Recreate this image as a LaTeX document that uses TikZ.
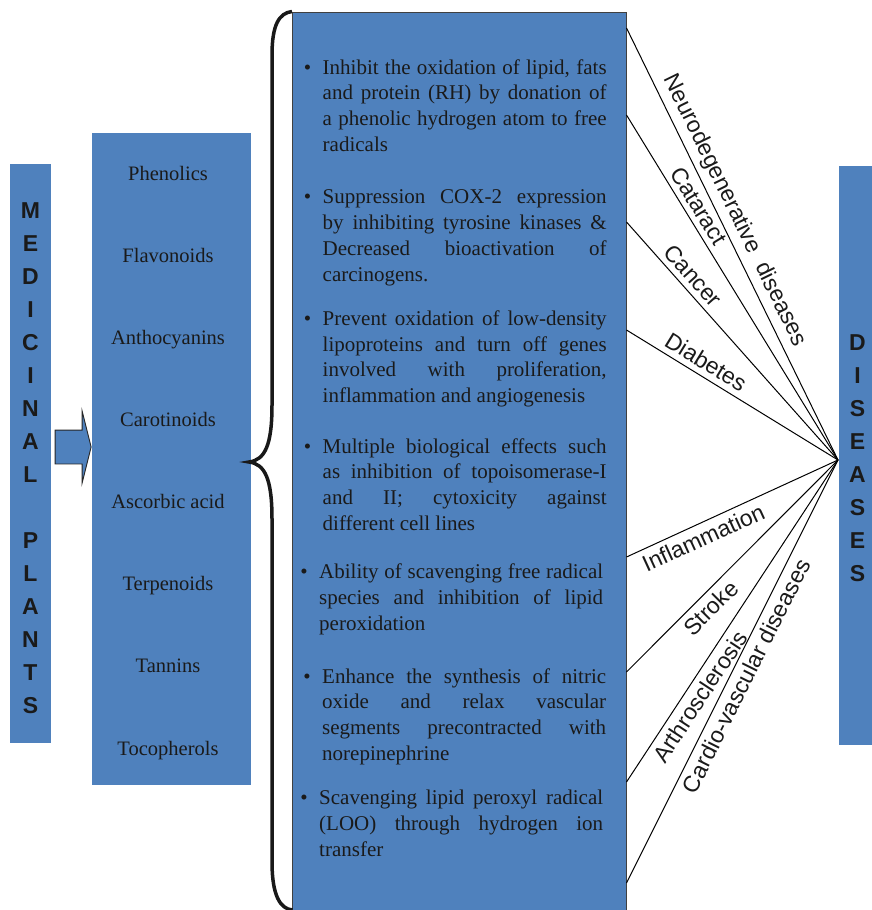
\documentclass[tikz,border=0pt]{standalone}
\usepackage{fontspec}
\setmainfont{Liberation Serif}
\setsansfont{Liberation Sans}
\usepackage{xcolor}
\usetikzlibrary{shapes.arrows}
\definecolor{panelblue}{HTML}{4F81BD}
\definecolor{ink}{HTML}{1A1A1A}
\newcommand{\mechbullet}{\leavevmode\llap{\textbullet\hspace{11.5pt}}}
\tikzset{
  panel/.style={rectangle, fill=panelblue, inner sep=0pt},
  mechbox/.style={rectangle, fill=panelblue, draw=black!75, line width=1pt, inner sep=0pt},
  letters/.style={text width=41pt, align=center, inner sep=0pt, text=ink,
    font=\sffamily\bfseries\fontsize{23}{33}\selectfont},
  comp/.style={inner sep=0pt, text=ink, font=\rmfamily\fontsize{20.5}{24}\selectfont},
  point/.style={text width=284pt, align=justify, inner sep=0pt, text=ink,
    font={\rmfamily\fontsize{21}{25.8}\selectfont\tolerance=10000 \hyphenpenalty=10000 \exhyphenpenalty=10000 }},
  bigarrow/.style={single arrow, fill=panelblue, draw=black!85, line width=0.9pt,
    minimum height=36pt, minimum width=71pt, single arrow head extend=19pt,
    single arrow tip angle=152, inner xsep=0pt, inner ysep=16.5pt},
  link/.style={draw=black, line width=1pt},
  tag/.style={sloped, inner sep=5.5pt, text=ink, font=\sffamily\fontsize{23}{27}\selectfont},
  brace/.style={line width=3.5pt, draw=black!90},
}

\begin{document}
\begin{tikzpicture}[x=1pt, y=-1pt]
  \useasboundingbox (0,0) rectangle (872,910);
  % columns
  \node[panel, minimum width=41pt, minimum height=579pt] (med) at (30.5,453.5) {};
  \node[panel, minimum width=159pt, minimum height=652pt] (comp) at (171.5,459) {};
  \node[mechbox, minimum width=333.5pt, minimum height=900pt] (mech) at (459.25,462) {};
  \node[panel, minimum width=36pt, minimum height=579pt] (dis) at (857,455.5) {};
  \node[bigarrow] (push) at (71,447) {};

  \node[letters, anchor=base] (medtxt) at (30.5,218) {M\\E\\D\\I\\C\\I\\N\\A\\L\\\mbox{}\\P\\L\\A\\N\\T\\S};
  \node[letters, text width=36pt, anchor=base] (distxt) at (857.5,350) {D\\I\\S\\E\\A\\S\\E\\S};

  % compounds
  \node[comp, anchor=base] (phe) at (168,180.5) {Phenolics};
  \node[comp, anchor=base] (fla) at (168,262.5) {Flavonoids};
  \node[comp, anchor=base] (ant) at (168,344.5) {Anthocyanins};
  \node[comp, anchor=base] (car) at (168,426) {Carotinoids};
  \node[comp, anchor=base] (asc) at (168,508.5) {Ascorbic acid};
  \node[comp, anchor=base] (ter) at (168,590.5) {Terpenoids};
  \node[comp, anchor=base] (tan) at (168,672.5) {Tannins};
  \node[comp, anchor=base] (toc) at (168,755) {Tocopherols};

  \draw[brace] (mech.north west) .. controls (279,13) and (272,25) .. (272,55) -- (272,405)
    .. controls (272,445) and (265,460) .. (249,462)
    .. controls (265,464) and (272,479) .. (272,519) -- (272,862)
    .. controls (272,895) and (280,909) .. (292.5,910);

  % mechanisms
  \node[point, anchor=base west] (m1) at (322.5,74) {\mechbullet Inhibit the oxidation of lipid, fats\linebreak and protein (RH) by donation of\linebreak a phenolic hydrogen atom to free\linebreak radicals};
  \node[point, anchor=base west] (m2) at (322.5,203.7) {\mechbullet Suppression COX-2 expression\linebreak by inhibiting tyrosine kinases \&\linebreak Decreased bioactivation of\linebreak carcinogens.};
  \node[point, anchor=base west] (m3) at (322.5,325.3) {\mechbullet Prevent oxidation of low-density\linebreak lipoproteins and turn off genes\linebreak involved with proliferation,\linebreak inflammation and angiogenesis};
  \node[point, anchor=base west] (m4) at (322.5,453) {\mechbullet Multiple biological effects such\linebreak as inhibition of topoisomerase-I\linebreak and II; cytoxicity against\linebreak different cell lines};
  \node[point, anchor=base west] (m5) at (319,578.7) {\mechbullet Ability of scavenging free radical\linebreak species and inhibition of lipid\linebreak peroxidation};
  \node[point, anchor=base west] (m6) at (322,683) {\mechbullet Enhance the synthesis of nitric\linebreak oxide and relax vascular\linebreak segments precontracted with\linebreak norepinephrine};
  \node[point, anchor=base west] (m7) at (319,804.7) {\mechbullet Scavenging lipid peroxyl radical\linebreak (LOO) through hydrogen ion\linebreak transfer};

  % diseases fan
  \coordinate (hub) at (838,460);
  \coordinate (neu) at (mech.east |- 0,28);
  \coordinate (cat) at (mech.east |- 0,115);
  \coordinate (can) at (mech.east |- 0,222);
  \coordinate (dia) at (mech.east |- 0,330);
  \coordinate (inf) at (mech.east |- 0,557);
  \coordinate (str) at (mech.east |- 0,672);
  \coordinate (art) at (mech.east |- 0,782);
  \coordinate (cvd) at (mech.east |- 0,883);
  \draw[link] (neu) -- (hub) node[tag, pos=0.44, above] {Neurodegenerative~~diseases};
  \draw[link] (cat) -- (hub) node[tag, pos=0.285, above] {Cataract};
  \draw[link] (can) -- (hub) node[tag, pos=0.265, above] {Cancer};
  \draw[link] (dia) -- (hub) node[tag, pos=0.34, above] {Diabetes};
  \draw[link] (inf) -- (hub) node[tag, pos=0.334, below] {Inflammation};
  \draw[link] (str) -- (hub) node[tag, pos=0.35, below] {Stroke};
  \draw[link] (art) -- (hub) node[tag, pos=0.29, below] {Arthrosclerosis};
  \draw[link] (cvd) -- (hub) node[tag, pos=0.505, below] {Cardio-vascular diseases};
\end{tikzpicture}
\end{document}
